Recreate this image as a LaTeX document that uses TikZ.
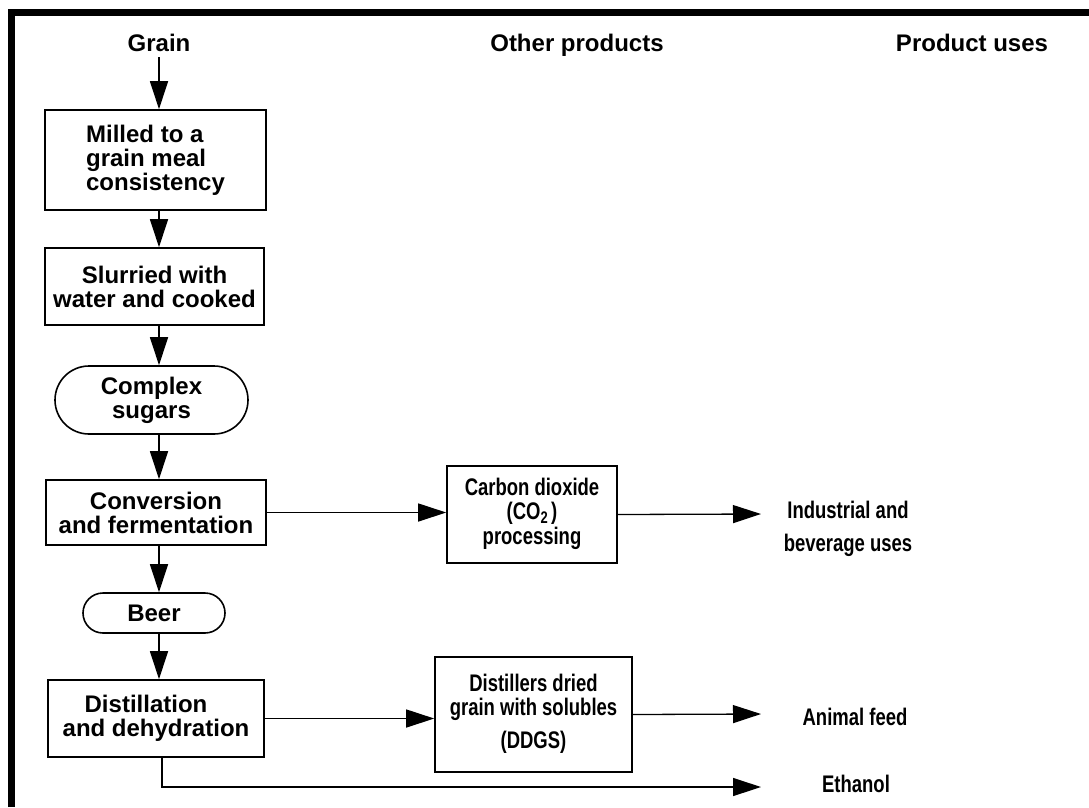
\documentclass[tikz,border=0pt]{standalone}
\usepackage{fontspec}
\setmainfont{Liberation Sans}
\usetikzlibrary{arrows.meta}
\newcommand\narrowtext[1]{\scalebox{0.77}[1]{\begin{tabular}{@{}c@{}}#1\end{tabular}}}
\begin{document}
\begin{tikzpicture}[x=1pt,y=-1pt,
  every node/.style={font=\fontsize{24}{24}\selectfont\bfseries, inner sep=0pt, align=center},
  box/.style={draw, line width=1.6pt},
  pill/.style={draw, line width=1.6pt, rounded corners=#1},
  conn/.style={line width=1.3pt},
  arr/.style={conn, -{Triangle[length=28pt,width=18pt]}}]
\useasboundingbox (0,0) rectangle (1089,807);
\fill[white] (0,0) rectangle (1089,807);
\draw[line width=7pt] (11,807) -- (11,12) -- (1089,12);

% headers
\node[anchor=base] (grain) at (159,51) {Grain};
\node[anchor=base] (other) at (577,51) {Other products};
\node[anchor=base] (uses) at (972,51) {Product uses};

% main column
\node[box, minimum width=221pt, minimum height=100pt, align=left] (mill) at (155.5,160) {Milled to a\\grain meal\\consistency};
\node[box, minimum width=219pt, minimum height=77pt] (slurry) at (154.5,286.5) {Slurried with\\water and cooked};
\node[pill=34pt, minimum width=193pt, minimum height=68pt] (sugars) at (151.5,400) {Complex\\sugars};
\node[box, minimum width=220pt, minimum height=65pt] (conv) at (156,512.5) {Conversion\\and fermentation};
\node[pill=20pt, minimum width=142pt, minimum height=40pt] (beer) at (154,613) {Beer};
\node[box, minimum width=216pt, minimum height=77pt] (dist) at (156,718.5) {Distillation\hspace*{20pt}\\and dehydration};

% other products
\node[box, minimum width=170pt, minimum height=97pt] (co2) at (532,514.5) {\narrowtext{Carbon dioxide\\(CO\textsubscript{2}\,)\\processing}};
\node[box, minimum width=197pt, minimum height=115pt] (ddgs) at (533.5,714.5) {\narrowtext{Distillers dried\\grain with solubles\\[8pt](DDGS)}};

% product uses
\node[font=\fontsize{24}{33}\selectfont\bfseries] (ind) at (848,528) {\narrowtext{Industrial and\\beverage uses}};
\node (feed) at (855,720) {\narrowtext{Animal feed}};
\node (eth) at (856,787) {\narrowtext{Ethanol}};

\coordinate (tco2) at (761,514);
\coordinate (tfeed) at (761,714);
\coordinate (teth) at (761,787);

% connectors
\draw[arr, shorten <=6pt] (grain.south) -- (grain.south |- mill.north);
\draw[arr] (mill.south -| grain) -- (slurry.north -| grain);
\draw[arr] (slurry.south -| grain) -- (sugars.north -| grain);
\draw[arr] (sugars.south -| grain) -- (conv.north -| grain);
\draw[arr] (conv.south -| grain) -- (beer.north -| grain);
\draw[arr] (beer.south -| grain) -- (dist.north -| grain);
\draw[arr] (conv.east) -- (co2.west |- conv.east);
\draw[arr] (co2.east) -- (tco2);
\draw[arr] (dist.east) -- (ddgs.west |- dist.east);
\draw[arr] (ddgs.east) -- (tfeed);
\draw[arr] ([xshift=6pt]dist.south) |- (teth);
\end{tikzpicture}
\end{document}
